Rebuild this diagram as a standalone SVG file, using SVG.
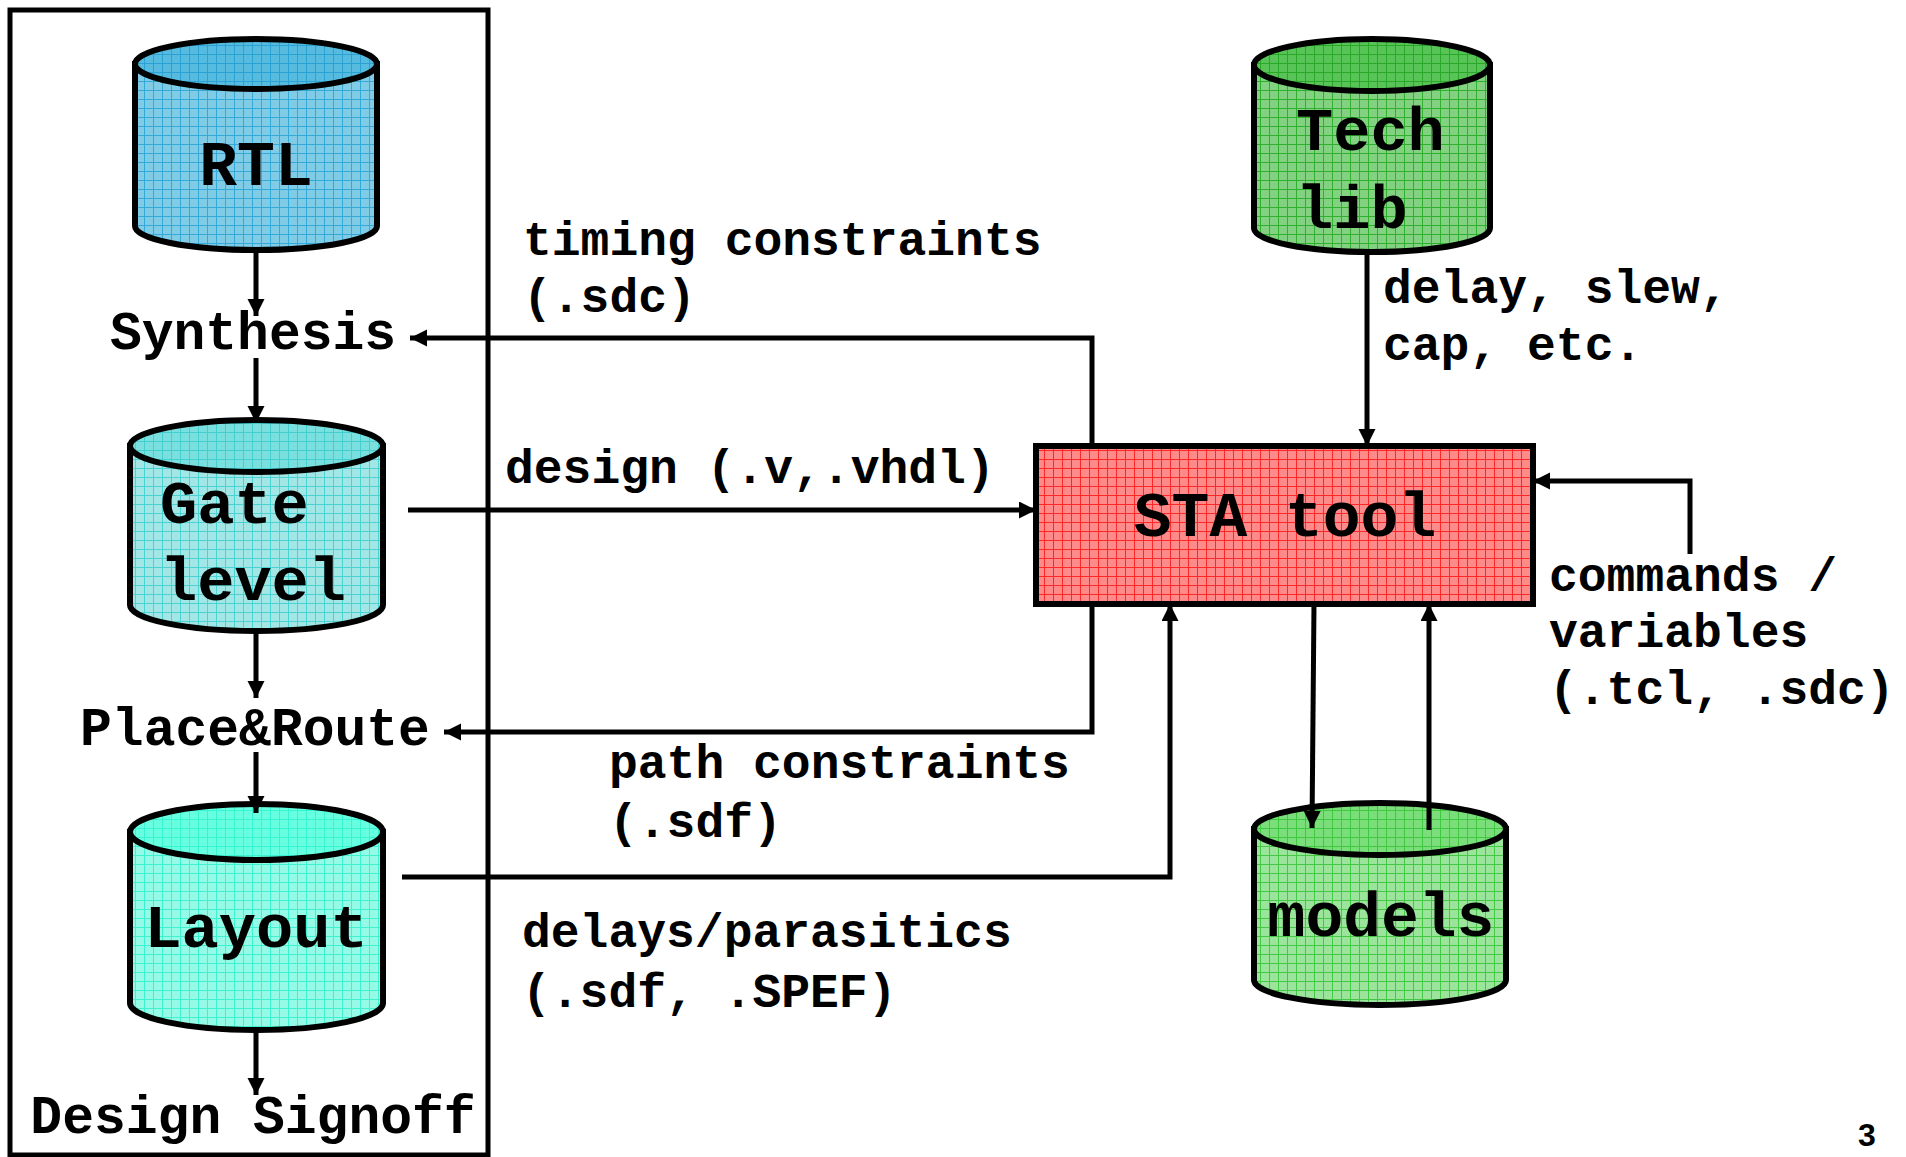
<svg xmlns="http://www.w3.org/2000/svg" width="1906" height="1157" viewBox="0 0 1906 1157">
<defs>
<pattern id="pRtlB" width="9" height="9" patternUnits="userSpaceOnUse"><rect width="9" height="9" fill="#80cbe6"/><path d="M0,0.5H9M0.5,0V9" stroke="#35aad9" stroke-width="1"/></pattern>
<pattern id="pRtlT" width="9" height="9" patternUnits="userSpaceOnUse"><rect width="9" height="9" fill="#56bbdf"/><path d="M0,0.5H9M0.5,0V9" stroke="#2aa2d4" stroke-width="1"/></pattern>
<pattern id="pGateB" width="9" height="9" patternUnits="userSpaceOnUse"><rect width="9" height="9" fill="#a2e6e6"/><path d="M0,0.5H9M0.5,0V9" stroke="#4cd2d2" stroke-width="1"/></pattern>
<pattern id="pGateT" width="9" height="9" patternUnits="userSpaceOnUse"><rect width="9" height="9" fill="#7adfdf"/><path d="M0,0.5H9M0.5,0V9" stroke="#44cfcf" stroke-width="1"/></pattern>
<pattern id="pLayB" width="9" height="9" patternUnits="userSpaceOnUse"><rect width="9" height="9" fill="#96fbe6"/><path d="M0,0.5H9M0.5,0V9" stroke="#3ff2cf" stroke-width="1"/></pattern>
<pattern id="pLayT" width="9" height="9" patternUnits="userSpaceOnUse"><rect width="9" height="9" fill="#66ffe0"/><path d="M0,0.5H9M0.5,0V9" stroke="#36f5d0" stroke-width="1"/></pattern>
<pattern id="pTechB" width="9" height="9" patternUnits="userSpaceOnUse"><rect width="9" height="9" fill="#82d282"/><path d="M0,0.5H9M0.5,0V9" stroke="#2fb02f" stroke-width="1"/></pattern>
<pattern id="pTechT" width="9" height="9" patternUnits="userSpaceOnUse"><rect width="9" height="9" fill="#58c458"/><path d="M0,0.5H9M0.5,0V9" stroke="#2aa82a" stroke-width="1"/></pattern>
<pattern id="pModB" width="9" height="9" patternUnits="userSpaceOnUse"><rect width="9" height="9" fill="#9be49b"/><path d="M0,0.5H9M0.5,0V9" stroke="#45c945" stroke-width="1"/></pattern>
<pattern id="pModT" width="9" height="9" patternUnits="userSpaceOnUse"><rect width="9" height="9" fill="#7ade7a"/><path d="M0,0.5H9M0.5,0V9" stroke="#40c840" stroke-width="1"/></pattern>
<pattern id="pSta" width="9" height="9" patternUnits="userSpaceOnUse"><rect width="9" height="9" fill="#ff8a8a"/><path d="M0,0.5H9M0.5,0V9" stroke="#ff2828" stroke-width="1"/></pattern>
<marker id="arr" markerWidth="18" markerHeight="18" refX="17" refY="8.5" orient="auto" markerUnits="userSpaceOnUse"><path d="M0,0 L17,8.5 L0,17 Z" fill="#000"/></marker>
</defs>
<style>
.cyl{stroke:#000;stroke-width:6}
.node{font-family:"Courier New","Liberation Mono",monospace;font-weight:bold;fill:#000}
.lbl{font-family:"Courier New","Liberation Mono",monospace;font-weight:bold;font-size:48px;fill:#000}
.step{font-family:"Courier New","Liberation Mono",monospace;font-weight:bold;font-size:53px;fill:#000}
.con{fill:none;stroke:#000;stroke-width:5;marker-end:url(#arr)}
</style>
<rect x="10" y="10" width="478" height="1145" fill="none" stroke="#000" stroke-width="5"/>

<g id="rtl">
<path class="cyl" fill="url(#pRtlB)" d="M135,64 V226 A121,24 0 0 0 377,226 V64 Z"/>
<ellipse class="cyl" fill="url(#pRtlT)" cx="256" cy="64" rx="121" ry="25"/>
<text class="node" x="256" y="185" font-size="63" text-anchor="middle">RTL</text>
</g>
<g id="synthesis"><text class="step" x="253" y="349" text-anchor="middle">Synthesis</text></g>
<g id="gate">
<path class="cyl" fill="url(#pGateB)" d="M130,446 V605 A126.5,26 0 0 0 383,605 V446 Z"/>
<ellipse class="cyl" fill="url(#pGateT)" cx="256.5" cy="446" rx="126.5" ry="26"/>
<text class="node" x="160" y="523" font-size="62">Gate</text>
<text class="node" x="160" y="600" font-size="62">level</text>
</g>
<g id="placeroute"><text class="step" x="255" y="745" text-anchor="middle">Place&amp;Route</text></g>
<g id="layout">
<path class="cyl" fill="url(#pLayB)" d="M130,832 V1003 A126.5,27 0 0 0 383,1003 V832 Z"/>
<ellipse class="cyl" fill="url(#pLayT)" cx="256.5" cy="832" rx="126.5" ry="28"/>
<text class="node" x="256" y="947" font-size="62" text-anchor="middle">Layout</text>
</g>
<g id="signoff"><text class="step" x="253" y="1133" text-anchor="middle">Design Signoff</text></g>

<g id="techlib">
<path class="cyl" fill="url(#pTechB)" d="M1254,65 V228 A118,24 0 0 0 1490,228 V65 Z"/>
<ellipse class="cyl" fill="url(#pTechT)" cx="1372" cy="65" rx="118" ry="26"/>
<text class="node" x="1296" y="150" font-size="62">Tech</text>
<text class="node" x="1296" y="228" font-size="62">lib</text>
</g>
<g id="sta">
<rect x="1036" y="446" width="497" height="158" fill="url(#pSta)" stroke="#000" stroke-width="6"/>
<text class="node" x="1285" y="536" font-size="63" text-anchor="middle">STA tool</text>
</g>
<g id="models">
<path class="cyl" fill="url(#pModB)" d="M1254,829 V980 A126,25 0 0 0 1506,980 V829 Z"/>
<ellipse class="cyl" fill="url(#pModT)" cx="1380" cy="829" rx="126" ry="26"/>
</g>

<g id="connectors">
<path class="con" d="M256,250 V316"/>
<path class="con" d="M256,358 V423"/>
<path class="con" d="M256,632 V698"/>
<path class="con" d="M256,752 V813"/>
<path class="con" d="M256,1031 V1095"/>
<path class="con" d="M1092,446 V338 H410"/>
<path class="con" d="M408,510 H1036"/>
<path class="con" d="M1092,604 V732 H444"/>
<path class="con" d="M402,877 H1170 V604"/>
<path class="con" d="M1367,252 V446"/>
<path class="con" d="M1690,554 V481 H1533"/>
<path class="con" d="M1314,604 L1312,828"/>
<path class="con" d="M1429,830 V604"/>
</g>
<g id="models-label"><text class="node" x="1381" y="936" font-size="63" text-anchor="middle">models</text></g>

<g id="labels">
<text class="lbl" x="523" y="255">timing constraints</text>
<text class="lbl" x="523" y="312">(.sdc)</text>
<text class="lbl" x="505" y="483">design (.v,.vhdl)</text>
<text class="lbl" x="609" y="778">path constraints</text>
<text class="lbl" x="609" y="837">(.sdf)</text>
<text class="lbl" x="522" y="947">delays/parasitics</text>
<text class="lbl" x="522" y="1007">(.sdf, .SPEF)</text>
<text class="lbl" x="1383" y="303">delay, slew,</text>
<text class="lbl" x="1383" y="360">cap, etc.</text>
<text class="lbl" x="1549" y="591">commands /</text>
<text class="lbl" x="1549" y="647">variables</text>
<text class="lbl" x="1549" y="704">(.tcl, .sdc)</text>
</g>
<text x="1858" y="1146" font-family="Liberation Sans, Arial, sans-serif" font-weight="bold" font-size="32">3</text>
</svg>
